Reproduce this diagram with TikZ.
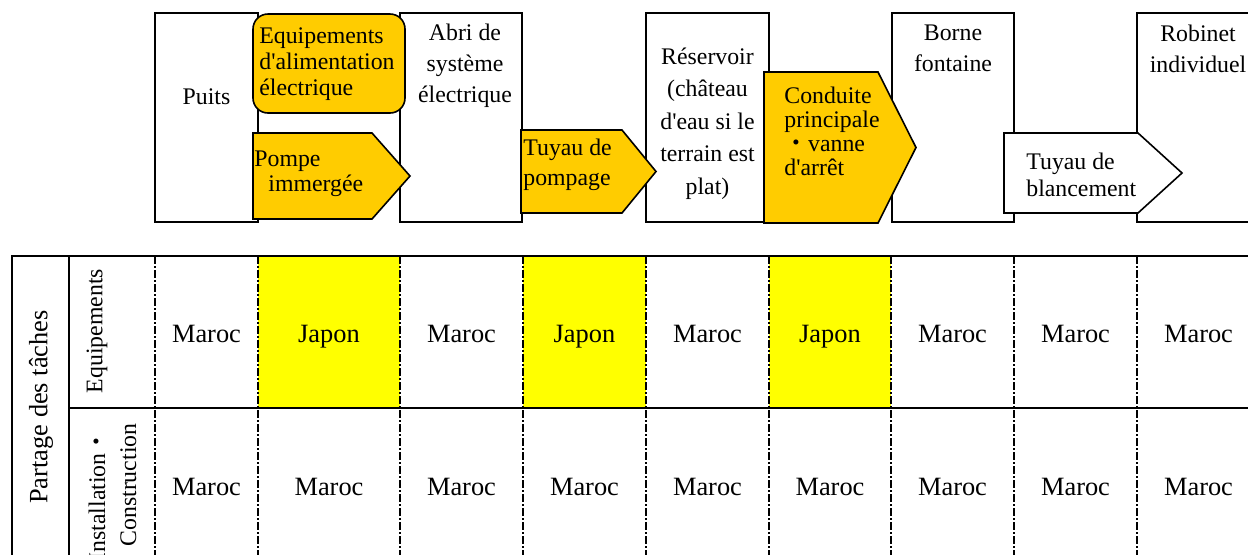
\documentclass[tikz,border=0pt]{standalone}
\usepackage{fontspec}
\setmainfont{Liberation Serif}[Ligatures=TeXOff]
\newfontfamily\cjk{Noto Sans CJK JP}
\definecolor{ambre}{HTML}{FFCC00}
\definecolor{jaune}{HTML}{FFFF00}
\tikzset{line/.style={line width=1pt}, grille/.style={line width=1pt, dash pattern=on 4pt off 1pt on 1pt off 1pt},
fleche/.style={draw, line width=0.8pt}, txt/.style={inner sep=0pt, font=\fontsize{11.9pt}{#1}\selectfont}, txt/.default=15.5pt,
cell/.style={inner sep=0pt, anchor=base, font=\fontsize{13.2pt}{16pt}\selectfont}}

\begin{document}
\begin{tikzpicture}[x=0.5pt,y=-0.5pt]
\useasboundingbox (0,0) rectangle (1248,554);
\clip (0,0) rectangle (1248,554);
% Table: yellow cells
\foreach \xa/\xb in {258/400,523/646,769/891}
  \fill[jaune] (\xa,256) rectangle (\xb,408);
% Table: column lines
\foreach \xc in {155,258,400,523,646,769,891,1014,1137}
  \draw[grille] (\xc,256) -- (\xc,560);
\draw[line] (12,560) -- (12,256) -- (1260,256);
\draw[line] (69,560) -- (69,256);
\draw[line] (69,408) -- (1260,408);
% Headers
\node[cell, anchor=center, rotate=90] (partage) at (41,407) {Partage des tâches};
\node[txt, rotate=90] (equip) at (97,331) {Equipements};
\node[txt, rotate=90, align=left] (install) at (112.5,492) {Installation{\cjk ・}\\\hspace*{7pt}Construction};
% Cells
\foreach \n/\xc/\qui in {1/206.5/Maroc,2/329/Japon,3/461.5/Maroc,4/584.5/Japon,5/707.5/Maroc,6/830/Japon,7/952.5/Maroc,8/1075.5/Maroc,9/1198.5/Maroc}{
  \node[cell] (eq\n) at (\xc,342) {\qui};
  \node[cell] (ins\n) at (\xc,495) {Maroc};
}
% Stages
\foreach \xa/\xb in {155/258,400/522,646/769,892/1014,1137/1259}
  \draw[line, fill=white] (\xa,13) rectangle (\xb,222);
\draw[fleche, fill=ambre, rounded corners=7.5pt] (253,14) rectangle (405,113);
\def\pointe#1#2#3#4#5#6{
  \draw[fleche, fill=#6] (#1,#2) -- (#3,#2) -- (#4,{(#2+#5)/2}) -- (#3,#5) -- (#1,#5) -- cycle;
}
\pointe{253}{133}{372}{410}{219}{ambre}%
\pointe{521}{130}{622}{656}{213}{ambre}%
\pointe{764}{72}{878}{916}{223}{ambre}%
\pointe{1004}{133}{1138}{1182}{213}{white}%
% Texts
\node[txt] (puits) at (206.5,97) {Puits};
\node[txt=13pt, align=left, anchor=west] (alim) at (259,64.5) {Equipements\\d'alimentation\\électrique};
\node[txt=15.5pt, align=center] (abri) at (465,65.5) {Abri de\\système\\électrique};
\node[txt=12.5pt, align=left, anchor=west] (pompe) at (254,173.5) {Pompe\\\hspace*{7pt}immergée};
\node[txt=15pt, align=left, anchor=west] (tuyau) at (523,164.5) {Tuyau de\\pompage};
\node[txt=16.25pt, align=center] (reserv) at (707.5,123.5) {Réservoir\\(château\\d'eau si le\\terrain est\\plat)};
\node[txt=12pt, align=left, anchor=west] (conduite) at (784,131) {Conduite\\principale\\{\cjk ・}vanne\\d'arrêt};
\node[txt=15.5pt, align=center] (borne) at (953,48.5) {Borne\\fontaine};
\node[txt=13.5pt, align=left, anchor=west] (blanc) at (1026,174.5) {Tuyau de\\blancement};
\node[txt=15.5pt, align=center] (robinet) at (1198,48.5) {Robinet\\individuel};
\end{tikzpicture}
\end{document}
